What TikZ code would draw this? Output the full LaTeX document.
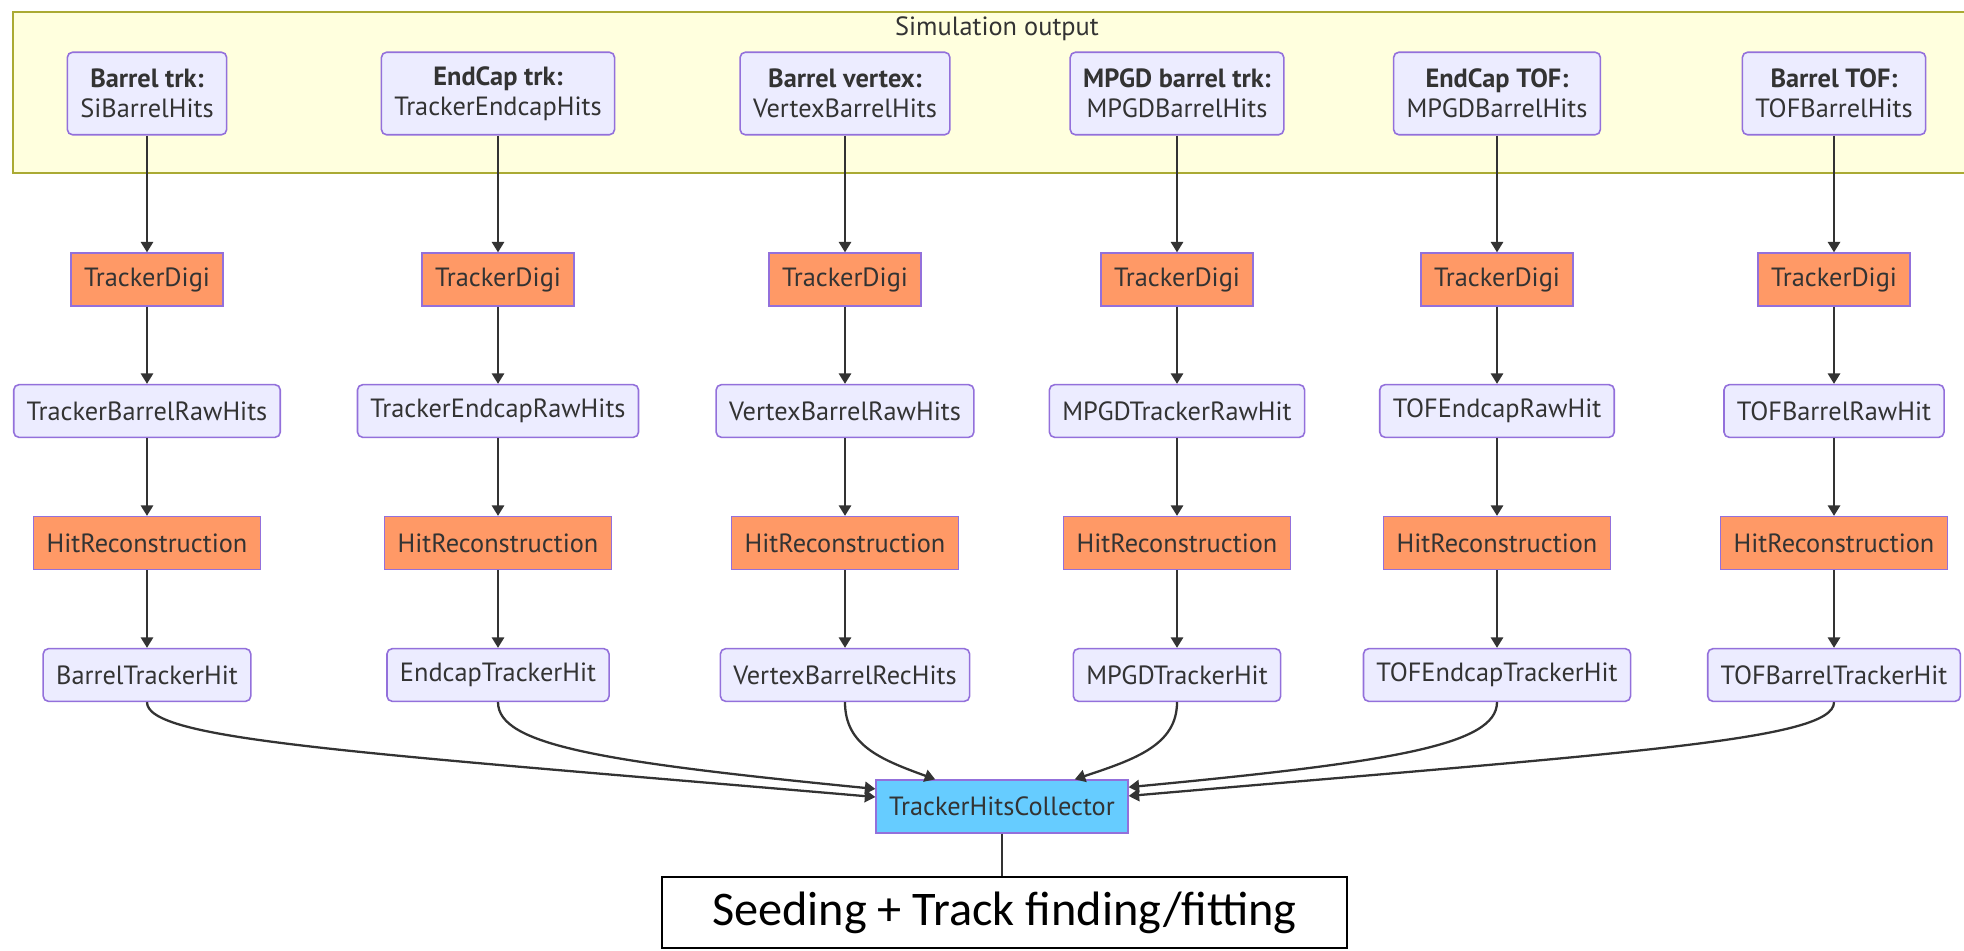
\documentclass[tikz,border=0pt]{standalone}
\usepackage{fontspec}
\setmainfont{PT Sans}
\newfontfamily\seedfont{Carlito}
\usetikzlibrary{arrows.meta}

\definecolor{nodefill}{HTML}{ECECFF}
\definecolor{nodeline}{HTML}{9370DB}
\definecolor{algofill}{HTML}{FF9966}
\definecolor{collfill}{HTML}{66CCFF}
\definecolor{clusterfill}{HTML}{FFFFDE}
\definecolor{clusterline}{HTML}{AAAA33}
\definecolor{edgegray}{HTML}{333333}

\tikzset{
  data/.style={draw=nodeline, fill=nodefill, line width=0.9pt, rounded corners=3pt,
    inner xsep=7.4pt, minimum height=30pt, text=edgegray, font=\fontsize{15}{17}\selectfont},
  src/.style={data, minimum height=47pt, align=center},
  algo/.style={data, fill=algofill, sharp corners},
  collect/.style={algo, fill=collfill},
  flow/.style={draw=edgegray, line width=1.3pt, -{Triangle[length=6pt,width=7pt]}},
  link/.style={draw=edgegray, line width=1.3pt},
}

\begin{document}
\begin{tikzpicture}[x=0.02cm, y=-0.02cm]
\useasboundingbox (0,0) rectangle (1964,950);

% Simulation output (cluster)
\fill[clusterfill] (13,12) rectangle (1964,173);
\draw[clusterline, line width=0.9pt] (1964,12) -- (13,12) -- (13,173) -- (1964,173);
\node[text=edgegray, font=\fontsize{15}{17}\selectfont] (simout) at (997,29) {Simulation output};

% One column per detector
\foreach \i/\x/\det/\simname/\raw/\hit in {
  1/147/Barrel trk:/SiBarrelHits/TrackerBarrelRawHits/BarrelTrackerHit,
  2/498/EndCap trk:/TrackerEndcapHits/TrackerEndcapRawHits/EndcapTrackerHit,
  3/845/Barrel vertex:/VertexBarrelHits/VertexBarrelRawHits/VertexBarrelRecHits,
  4/1177/MPGD barrel trk:/MPGDBarrelHits/MPGDTrackerRawHit/MPGDTrackerHit,
  5/1497/EndCap TOF:/MPGDBarrelHits/TOFEndcapRawHit/TOFEndcapTrackerHit,
  6/1834/Barrel TOF:/TOFBarrelHits/TOFBarrelRawHit/TOFBarrelTrackerHit} {
  \node[src] (sim\i) at (\x,93.5) {\textbf{\det}\\\simname};
  \node[algo] (digi\i) at (\x,279.5) {TrackerDigi};
  \node[data] (raw\i) at (\x,411) {\raw};
  \node[algo] (reco\i) at (\x,543) {HitReconstruction};
  \node[data] (hit\i) at (\x,675) {\hit};
  \draw[flow] (sim\i) -- (digi\i);
  \draw[flow] (digi\i) -- (raw\i);
  \draw[flow] (raw\i) -- (reco\i);
  \draw[flow] (reco\i) -- (hit\i);
}

% Collector
\node[collect] (coll) at (1002,806.5) {TrackerHitsCollector};

\draw[flow] (hit1.south) .. controls +(0,38) and +(-524,-45) .. ([yshift=5.4pt]coll.west);
\draw[flow] (hit2.south) .. controls +(0,43) and +(-274,-27) .. ([yshift=10pt]coll.west);
\draw[flow] (hit3.south) .. controls +(0,43) and +(-55,-20) .. ([xshift=-38pt]coll.north);
\draw[flow] (hit4.south) .. controls +(0,43) and +(60,-20) .. ([xshift=41.4pt]coll.north);
\draw[flow] (hit5.south) .. controls +(0,43) and +(263,-25) .. ([yshift=11pt]coll.east);
\draw[flow] (hit6.south) .. controls +(0,38) and +(508,-44) .. ([yshift=6pt]coll.east);

% Tracking
\node[draw=black, line width=1.1pt, minimum width=390pt, minimum height=40pt,
  font=\seedfont\fontsize{27.5}{33}\selectfont] (seed) at (1004.5,912.5) {Seeding + Track finding/fitting};
\draw[link] (coll.south) -- (coll.south |- seed.north);

\end{tikzpicture}
\end{document}
